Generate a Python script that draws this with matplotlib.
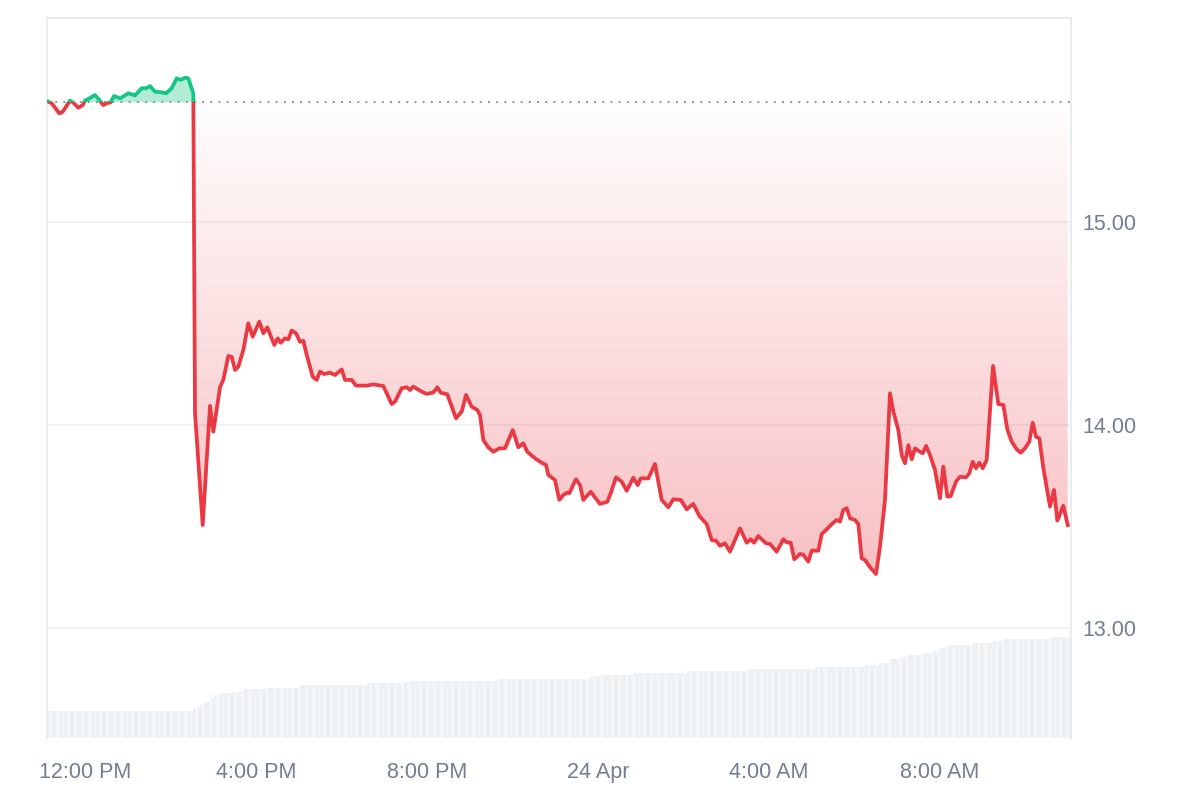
import numpy as np
import matplotlib
matplotlib.use("Agg")
import matplotlib.pyplot as plt
from matplotlib.colors import LinearSegmentedColormap
from matplotlib.patches import Rectangle, PathPatch
from matplotlib.path import Path

# ---------------- data (hours since 23 Apr 12:00 PM) ----------------
t_hours = [-0.858, -0.779, -0.601, -0.522, -0.351, -0.274, -0.157, -0.054, 0.000, 0.101,
           0.234, 0.335, 0.428, 0.508, 0.601, 0.678, 0.819, 1.013, 1.170, 1.326,
           1.427, 1.520, 1.637, 1.794, 1.895, 2.028, 2.145, 2.239, 2.339, 2.416,
           2.533, 2.573, 2.753, 2.924, 3.001, 3.158, 3.235, 3.352, 3.432, 3.509,
           3.586, 3.703, 3.820, 3.923, 4.077, 4.171, 4.264, 4.428, 4.508, 4.578,
           4.678, 4.756, 4.835, 4.936, 5.029, 5.107, 5.186, 5.326, 5.420, 5.497,
           5.591, 5.731, 5.848, 6.005, 6.082, 6.239, 6.339, 6.589, 6.744, 6.978,
           7.174, 7.251, 7.408, 7.525, 7.602, 7.680, 7.876, 7.993, 8.147, 8.241,
           8.321, 8.475, 8.678, 8.812, 8.912, 9.046, 9.177, 9.240, 9.317, 9.434,
           9.551, 9.691, 9.825, 10.005, 10.136, 10.253, 10.346, 10.526, 10.683, 10.784,
           10.837, 10.994, 11.095, 11.188, 11.282, 11.329, 11.485, 11.579, 11.656, 11.829,
           12.047, 12.218, 12.297, 12.421, 12.554, 12.671, 12.826, 12.929, 12.999, 13.177,
           13.333, 13.434, 13.490, 13.645, 13.761, 13.935, 14.075, 14.229, 14.370, 14.543,
           14.660, 14.760, 14.854, 14.971, 15.088, 15.205, 15.322, 15.478, 15.572, 15.649,
           15.750, 15.930, 16.023, 16.180, 16.335, 16.414, 16.508, 16.592, 16.725, 16.802,
           16.919, 16.999, 17.153, 17.233, 17.350, 17.467, 17.584, 17.661, 17.738, 17.818,
           17.895, 18.012, 18.089, 18.168, 18.246, 18.363, 18.503, 18.596, 18.713, 18.830,
           18.908, 19.025, 19.104, 19.181, 19.259, 19.338, 19.415, 19.532, 19.595, 19.673,
           19.766, 19.883, 20.000, 20.077, 20.171, 20.250, 20.374, 20.468, 20.608, 20.686,
           20.765, 20.842, 20.919, 20.999, 21.092, 21.240, 21.364, 21.481, 21.574, 21.677,
           21.794, 21.888, 21.988, 22.089, 22.168, 22.246, 22.323, 22.417, 22.573, 22.667,
           22.744, 22.884, 22.987]

price = [15.593, 15.585, 15.535, 15.543, 15.598, 15.588, 15.563, 15.576, 15.598, 15.609,
         15.626, 15.601, 15.576, 15.585, 15.590, 15.621, 15.609, 15.634, 15.624, 15.659,
         15.659, 15.670, 15.642, 15.639, 15.634, 15.659, 15.708, 15.700, 15.711, 15.708,
         15.634, 14.059, 13.507, 14.094, 13.967, 14.186, 14.222, 14.340, 14.336, 14.271,
         14.287, 14.369, 14.501, 14.435, 14.509, 14.452, 14.481, 14.394, 14.427, 14.405,
         14.427, 14.422, 14.465, 14.452, 14.410, 14.415, 14.345, 14.238, 14.222, 14.263,
         14.251, 14.258, 14.246, 14.274, 14.222, 14.222, 14.194, 14.194, 14.200, 14.192,
         14.103, 14.115, 14.181, 14.186, 14.172, 14.189, 14.164, 14.153, 14.160, 14.186,
         14.159, 14.151, 14.033, 14.066, 14.148, 14.090, 14.074, 14.049, 13.926, 13.890,
         13.868, 13.885, 13.885, 13.975, 13.890, 13.910, 13.868, 13.836, 13.814, 13.803,
         13.754, 13.729, 13.631, 13.655, 13.667, 13.664, 13.733, 13.704, 13.631, 13.671,
         13.611, 13.622, 13.664, 13.742, 13.721, 13.676, 13.740, 13.704, 13.737, 13.737,
         13.808, 13.696, 13.631, 13.595, 13.634, 13.631, 13.585, 13.611, 13.552, 13.512,
         13.433, 13.430, 13.405, 13.417, 13.376, 13.433, 13.491, 13.420, 13.437, 13.420,
         13.453, 13.417, 13.414, 13.376, 13.437, 13.422, 13.420, 13.338, 13.365, 13.360,
         13.327, 13.381, 13.381, 13.463, 13.486, 13.512, 13.532, 13.524, 13.581, 13.590,
         13.540, 13.532, 13.512, 13.343, 13.335, 13.299, 13.266, 13.400, 13.631, 14.156,
         14.066, 13.975, 13.852, 13.811, 13.901, 13.831, 13.885, 13.868, 13.861, 13.897,
         13.852, 13.778, 13.639, 13.795, 13.647, 13.650, 13.721, 13.745, 13.742, 13.762,
         13.819, 13.787, 13.814, 13.787, 13.828, 14.291, 14.103, 14.099, 13.979, 13.918,
         13.880, 13.864, 13.885, 13.918, 14.011, 13.942, 13.934, 13.787, 13.598, 13.680,
         13.529, 13.602, 13.507]

baseline = 15.591

# volume bars (5-minute bars, arbitrary units)
volume = ([27] * 41 + [30, 31, 33, 35, 37, 40, 43, 44] + [45] * 3 + [46] * 3 + [49] * 7
          + [50] * 9 + [53] * 19 + [55] * 10 + [56] * 2 + [57] * 25 + [59] * 26 + [62] * 3
          + [63] * 9 + [65] * 15 + [67] * 17 + [69] * 19 + [71] * 14 + [73] * 4 + [75] * 3
          + [79] * 3 + [81] * 2 + [83] * 4 + [85] * 3 + [87] * 2 + [90] * 2 + [93] * 7
          + [95] * 6 + [97] * 3 + [99] * 13 + [101] * 6)

x_start, x_end = -0.889, 23.064
tick_hours = [0, 4, 8, 12, 16, 20]
tick_labels = ["12:00 PM", "4:00 PM", "8:00 PM", "24 Apr", "4:00 AM", "8:00 AM"]
y_ticks = [13.0, 14.0, 15.0]
y_min, y_max = 12.458, 16.005

# ---------------- style ----------------
RED = "#ea3943"
GREEN = "#16c784"
TEXT = "#737e92"
GRID = "#eff2f5"
BAR = "#eff2f5"

plt.rcParams["font.family"] = ["Liberation Sans", "DejaVu Sans"]

fig = plt.figure(figsize=(12, 8), dpi=100)
ax = fig.add_axes([47 / 1200, 62 / 800, 1024 / 1200, 720 / 800])

t = np.array(t_hours)
p = np.array(price)

# volume on twin axis
axv = ax.twinx()
n = len(volume)
bw = (x_end - x_start) / n
bx = x_start + bw * (np.arange(n) + 0.5)
axv.bar(bx, volume, width=bw * 0.86, color=BAR, linewidth=0, zorder=1)
axv.set_ylim(0, 720)
axv.axis("off")
ax.set_zorder(axv.get_zorder() + 1)
ax.patch.set_visible(False)

# gridlines
for yt in y_ticks:
    ax.axhline(yt, color=GRID, lw=1.5, zorder=1)

# red gradient fill between baseline and line (below baseline)
pmin = p.min()
low = np.minimum(p, baseline)
verts = [(t[0], baseline)] + list(zip(t, low)) + [(t[-1], baseline)]
poly = Path(verts + [verts[0]], closed=True)
patch = PathPatch(poly, facecolor="none", edgecolor="none", transform=ax.transData)
ax.add_patch(patch)
cmap = LinearSegmentedColormap.from_list(
    "rg", [(0.918, 0.224, 0.263, 0.01), (0.918, 0.224, 0.263, 0.32)])
grad = np.linspace(0, 1, 256).reshape(-1, 1)
im = ax.imshow(grad, cmap=cmap, aspect="auto", origin="upper",
               extent=[x_start, x_end, pmin, baseline], zorder=2, interpolation="bilinear")
im.set_clip_path(patch)

# green fill above baseline
ax.fill_between(t, baseline, p, where=p >= baseline, interpolate=True,
                color=GREEN, alpha=0.33, linewidth=0, zorder=2)

# baseline dotted
ax.axhline(baseline, color="#8d949e", lw=1.4, linestyle=(0, (1, 3.2)), zorder=3)

# line, colored by baseline
l_red, = ax.plot(t, p, color=RED, lw=2.7, zorder=4, solid_joinstyle="round")
l_green, = ax.plot(t, p, color=GREEN, lw=2.7, zorder=5, solid_joinstyle="round")
clip_up = Rectangle((x_start, baseline), x_end - x_start, y_max - baseline,
                    transform=ax.transData, facecolor="none", edgecolor="none")
clip_dn = Rectangle((x_start, y_min), x_end - x_start, baseline - y_min,
                    transform=ax.transData, facecolor="none", edgecolor="none")
ax.add_patch(clip_up)
ax.add_patch(clip_dn)
l_green.set_clip_path(clip_up)
l_red.set_clip_path(clip_dn)

ax.set_xlim(x_start, x_end)
ax.set_ylim(y_min, y_max)

ax.set_xticks(tick_hours)
ax.set_xticklabels(tick_labels)
ax.yaxis.tick_right()
ax.set_yticks(y_ticks)
ax.set_yticklabels([f"{v:.2f}" for v in y_ticks])
ax.tick_params(axis="both", length=0, labelsize=15.5, labelcolor=TEXT)
ax.tick_params(axis="x", pad=17)
ax.tick_params(axis="y", pad=8.5)

for side in ["top", "left", "right"]:
    ax.spines[side].set_color("#e9ebee")
    ax.spines[side].set_linewidth(1.5)
ax.spines["bottom"].set_visible(False)

fig.savefig("out.png", dpi=100, facecolor="white")
